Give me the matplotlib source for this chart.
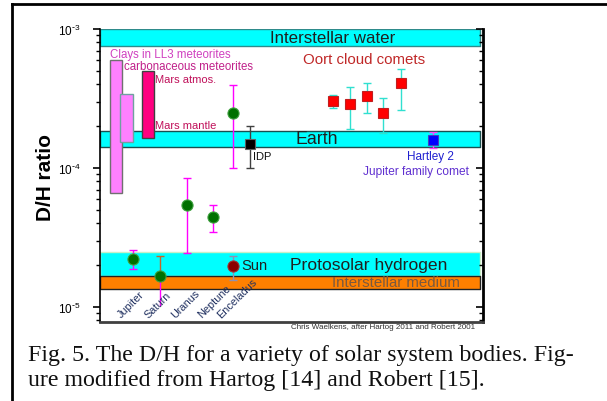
import matplotlib
matplotlib.use("Agg")
import matplotlib.pyplot as plt
from matplotlib.lines import Line2D
import numpy as np

plt.rcParams['font.family'] = ['Liberation Sans', 'DejaVu Sans']

# ---- data -------------------------------------------------------------
# reference bands (D/H ranges)
band_names = ["Interstellar water", "Earth", "Protosolar hydrogen", "Interstellar medium"]
band_low = [7.55e-4, 1.42e-4, 1.68e-5, 1.35e-5]
band_high = [1.0e-3, 1.85e-4, 2.5e-5, 1.68e-5]

# meteorite / Mars ranges (floating bars)
range_names = ["Clays in LL3 meteorites", "carbonaceous meteorites", "Mars"]
range_low = [6.6e-5, 1.54e-4, 1.64e-4]
range_high = [5.98e-4, 3.4e-4, 4.99e-4]

# giant planets and Enceladus
planet_names = ["Jupiter", "Saturn", "Uranus", "Neptune", "Enceladus"]
planet_dh = [2.21e-5, 1.67e-5, 5.42e-5, 4.44e-5, 2.49e-4]
planet_lo = [1.87e-5, 1.02e-5, 2.44e-5, 3.47e-5, 1.0e-4]
planet_hi = [2.57e-5, 2.33e-5, 8.47e-5, 5.42e-5, 3.95e-4]

# Sun
sun_dh, sun_lo, sun_hi = 1.97e-5, 1.56e-5, 2.33e-5

# interplanetary dust particles
idp_dh, idp_lo, idp_hi = 1.49e-4, 1.0e-4, 2.0e-4

# Oort cloud comets
oort_dh = [3.03e-4, 2.88e-4, 3.30e-4, 2.49e-4, 4.09e-4]
oort_lo = [2.70e-4, 1.91e-4, 2.49e-4, 1.79e-4, 2.61e-4]
oort_hi = [3.35e-4, 3.83e-4, 4.09e-4, 3.19e-4, 5.15e-4]

# Jupiter family comet Hartley 2
hartley_dh, hartley_lo, hartley_hi = 1.59e-4, 1.39e-4, 1.82e-4

# y tick values and labels
ytick_vals = [1e-5, 1e-4, 1e-3]
ytick_labels = [r'$\mathregular{10^{\text{-}5}}$', r'$\mathregular{10^{\text{-}4}}$',
                r'$\mathregular{10^{\text{-}3}}$']

# ---- layout (horizontal positions on a 0..100 scale) ------------------
range_x0 = [2.6, 5.2, 11.0]
range_w = [3.1, 3.4, 3.1]
planet_x = [8.6, 15.7, 22.7, 29.5, 34.7]
sun_x = 34.7
idp_x = 39.2
oort_x = [60.8, 65.3, 69.7, 73.9, 78.6]
hartley_x = 86.9

fig = plt.figure(figsize=(6.07, 4.02), dpi=100)
ax = fig.add_axes([100 / 607, 1 - 323 / 402, 383 / 607, 293 / 402])
ax.set_yscale('log')
ax.set_xlim(0, 100)
ax.set_ylim(7.8e-6, 1.0e-3)

# bands
band_face = ["#00FFFF", "#00FFFF", "#00FFFF", "#FF8000"]
band_edge = ["#2E8B8B", "#1a5050", "#c8f0c8", "#222222"]
for lo, hi, fc, ec in zip(band_low, band_high, band_face, band_edge):
    ax.fill_between([0, 99.3], lo, hi, facecolor=fc, edgecolor=ec, lw=1.0, zorder=1)

ax.text(60.8, np.sqrt(band_low[0] * band_high[0]), band_names[0], ha='center', va='center',
        fontsize=12.2, color='#202020', zorder=2)
ax.text(56.7, np.sqrt(band_low[1] * band_high[1]), band_names[1], ha='center', va='center',
        fontsize=12.8, color='#202020', zorder=2)
ax.text(49.5, np.sqrt(band_low[2] * band_high[2]) * 0.985, band_names[2], ha='left', va='center',
        fontsize=12.6, color='#202020', zorder=2)
ax.text(60.5, np.sqrt(band_low[3] * band_high[3]), band_names[3], ha='left', va='center',
        fontsize=10.8, color='#7a5a40', zorder=2)

# meteorite and Mars bars
range_face = ["#FF80FF", "#FF80FF", "#FF0080"]
range_edge = ["#707070", "#70a0a0", "#404040"]
for x0, w, lo, hi, fc, ec in zip(range_x0, range_w, range_low, range_high, range_face, range_edge):
    ax.bar(x0, hi - lo, bottom=lo, width=w, align='edge', color=fc, edgecolor=ec, lw=1.0, zorder=3)

ax.text(2.6, 6.6e-4, range_names[0], ha='left', va='center', fontsize=8.3, color='#D040C0', zorder=4)
ax.text(6.3, 5.42e-4, range_names[1], ha='left', va='center', fontsize=8.3, color='#C0208A', zorder=4)
ax.text(14.4, 4.37e-4, "Mars atmos.", ha='left', va='center', fontsize=8, color='#C0105A', zorder=4)
ax.text(14.4, 2.04e-4, "Mars mantle", ha='left', va='center', fontsize=8, color='#C0105A', zorder=4)

# planets
err_kw = dict(capsize=3, elinewidth=1.0, capthick=1.0, zorder=4)
for i, (x, v, lo, hi) in enumerate(zip(planet_x, planet_dh, planet_lo, planet_hi)):
    if planet_names[i] == "Saturn":
        ax.errorbar(x, v, yerr=[[0], [hi - v]], fmt='none', ecolor='#C86428', **err_kw)
        ax.errorbar(x, v, yerr=[[v - lo], [0]], fmt='none', ecolor='#FF00FF',
                    capsize=0, elinewidth=1.0, zorder=4)
    else:
        ax.errorbar(x, v, yerr=[[v - lo], [hi - v]], fmt='none', ecolor='#FF00FF', **err_kw)
    ax.plot(x, v, 'o', ms=8, mfc='#007000', mec='#40a040', mew=0.8, zorder=5)

# Sun
ax.errorbar(sun_x, sun_dh, yerr=[[sun_dh - sun_lo], [sun_hi - sun_dh]], fmt='none',
            ecolor='#9090B0', **err_kw)
ax.plot(sun_x, sun_dh, 'o', ms=8, mfc='#8B0000', mec='#a03030', mew=0.8, zorder=5)
ax.text(36.8, sun_dh * 1.01, "Sun", ha='left', va='center', fontsize=10.5, color='#202020', zorder=4)

# IDP
ax.errorbar(idp_x, idp_dh, yerr=[[idp_dh - idp_lo], [idp_hi - idp_dh]], fmt='none',
            ecolor='#404040', **err_kw)
ax.plot(idp_x, idp_dh, 's', ms=7, mfc='black', mec='#606060', mew=0.8, zorder=5)
ax.text(40.0, 1.22e-4, "IDP", ha='left', va='center', fontsize=8, color='#101010', zorder=4)

# Oort cloud comets
for x, v, lo, hi in zip(oort_x, oort_dh, oort_lo, oort_hi):
    ax.errorbar(x, v, yerr=[[v - lo], [hi - v]], fmt='none', ecolor='#30E0D0', **err_kw)
    ax.plot(x, v, 's', ms=7.5, mfc='#FF0000', mec='#c02020', mew=0.8, zorder=5)
ax.text(68.9, 6.05e-4, "Oort cloud comets", ha='center', va='center', fontsize=10.8,
        color='#C02828', zorder=4)

# Hartley 2
ax.errorbar(hartley_x, hartley_dh, yerr=[[hartley_dh - hartley_lo], [hartley_hi - hartley_dh]],
            fmt='none', ecolor='#FF40FF', **err_kw)
ax.plot(hartley_x, hartley_dh, 's', ms=7, mfc='#0000FF', mec='#4040c0', mew=0.8, zorder=5)
ax.text(86.2, 1.22e-4, "Hartley 2", ha='center', va='center', fontsize=8.5, color='#2020D0', zorder=4)
ax.text(82.5, 9.5e-5, "Jupiter family comet", ha='center', va='center', fontsize=8.6,
        color='#6030D0', zorder=4)

# rotated planet names below the bands
for x, name in zip(planet_x, planet_names):
    ax.text(x - 3.0, 8.4e-6, name, rotation=45, ha='left', va='baseline', fontsize=7.8,
            color='#203060', zorder=4, rotation_mode='anchor')

# axes styling
ax.set_xticks([])
for side in ['left', 'right', 'bottom', 'top']:
    ax.spines[side].set_linewidth(1.2)
ax.spines['top'].set_visible(False)
ax.spines['bottom'].set_linewidth(2.0)
ax.spines['bottom'].set_color('#404040')
ax.spines['right'].set_linewidth(2.0)
ax.tick_params(axis='y', which='major', direction='out', length=5, width=1.2, labelsize=8.5, pad=9)
ax.tick_params(axis='y', which='minor', direction='out', length=3, width=1.0)
ax.set_yticks(ytick_vals)
ax.set_yticklabels(ytick_labels)

# inward ticks on the right side
ax2 = ax.twinx()
ax2.set_yscale('log')
ax2.set_ylim(ax.get_ylim())
ax2.set_yticks(ytick_vals)
ax2.tick_params(axis='y', which='major', direction='in', length=5, width=1.2, labelright=False)
ax2.tick_params(axis='y', which='minor', direction='in', length=3, width=1.0, labelright=False)
for s in ax2.spines.values():
    s.set_visible(False)

ax.set_ylabel("D/H ratio", fontsize=15, fontweight='bold')
ax.yaxis.set_label_coords(-0.118, 0.497)

# credit line and caption
fig.text(383 / 607, 1 - 328 / 402, "Chris Waelkens, after Hartog 2011 and Robert 2001",
         ha='center', va='center', fontsize=5.8, color='#303030')
fig.text(28 / 607, 1 - 356 / 402,
         "Fig. 5. The D/H for a variety of solar system bodies. Fig-",
         ha='left', va='center', fontsize=17.2, family='Liberation Serif', color='#101010')
fig.text(28 / 607, 1 - 381 / 402,
         "ure modified from Hartog [14] and Robert [15].",
         ha='left', va='center', fontsize=17.2, family='Liberation Serif', color='#101010')

# frame lines at the top and left of the figure
fig.add_artist(Line2D([12 / 607, 1.0], [1 - 5 / 402, 1 - 5 / 402], color='black', lw=2.0,
                      transform=fig.transFigure))
fig.add_artist(Line2D([12 / 607, 12 / 607], [0, 1 - 5 / 402], color='black', lw=2.0,
                      transform=fig.transFigure))

fig.savefig("out.png", dpi=100)
